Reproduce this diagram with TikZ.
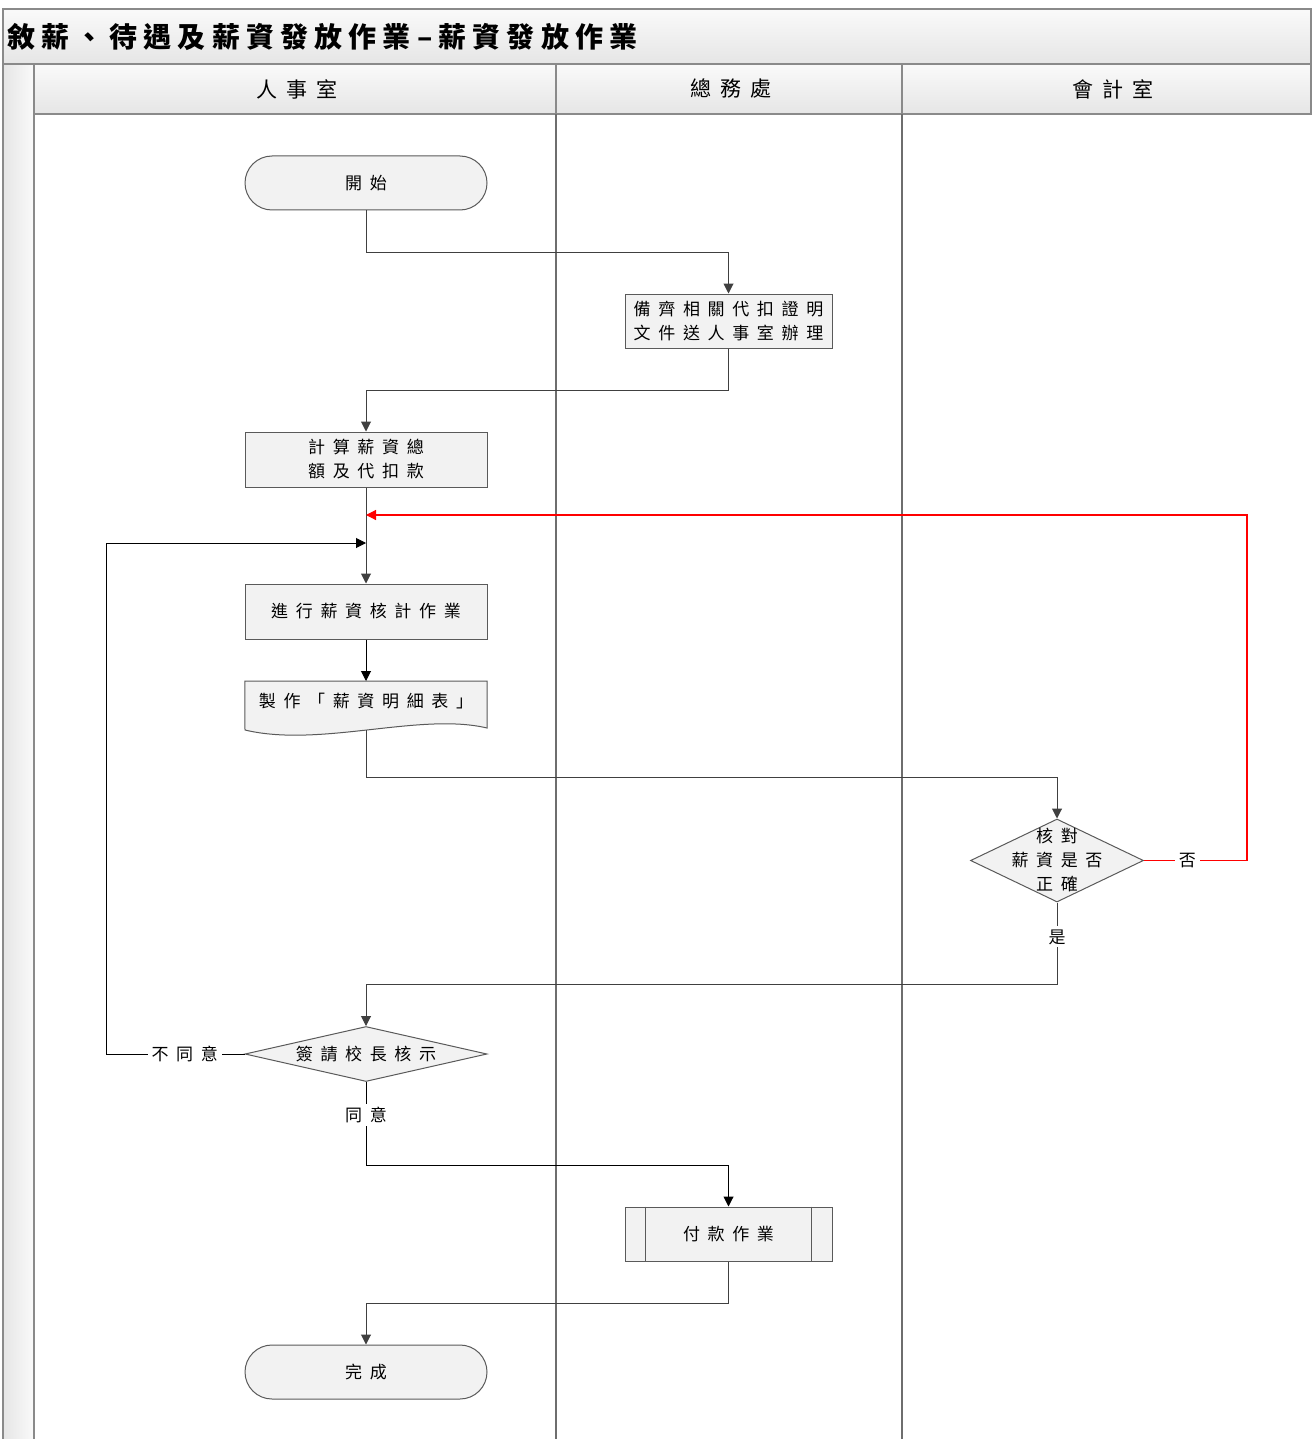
\documentclass[tikz,border=0pt]{standalone}
\usepackage{fontspec}
\setmainfont{Noto Sans CJK TC}
\newfontfamily\cjk[LetterSpace=45]{Noto Sans CJK TC}
\newfontfamily\cjktitle[LetterSpace=22]{Noto Sans CJK TC}
\usetikzlibrary{shapes.geometric,arrows.meta}
\definecolor{frameg}{HTML}{8A8A8A}
\definecolor{laneg}{HTML}{6E6E6E}
\definecolor{boxb}{HTML}{5A5A5A}
\definecolor{boxf}{HTML}{F2F2F2}
\definecolor{conng}{HTML}{404040}
\definecolor{redc}{HTML}{FF0000}
\tikzset{
  txt/.style={font=\cjk\fontsize{17}{24}\selectfont, align=center, inner sep=0},
  term/.style={draw=boxb, fill=boxf, line width=1pt, rounded corners=27pt, minimum width=242pt, minimum height=54pt, inner sep=0, txt},
  procbox/.style={draw=boxb, fill=boxf, line width=1pt, minimum width=242pt, minimum height=55pt, inner sep=0, txt},
  diam/.style={draw=boxb, fill=boxf, line width=1pt, shape=diamond, inner sep=0},
  lbl/.style={fill=white, text=black, txt, inner xsep=4pt, inner ysep=3pt},
  conn/.style={color=conng, line width=1pt, -{Triangle[length=10pt,width=10pt]}},
  blkconn/.style={color=black, line width=1pt, -{Triangle[length=10pt,width=10pt]}},
  redconn/.style={color=redc, line width=1.2pt, -{Triangle[length=10pt,width=10pt]}},
  hdr/.style={draw=frameg, line width=1.2pt, top color=white!60!boxf, bottom color=black!10},
  hdrtxt/.style={inner sep=0, font=\cjk\fontsize{21}{24}\selectfont},
}
\begin{document}
\begin{tikzpicture}[x=1pt,y=-1pt]
\useasboundingbox (0,0) rectangle (1311,1439);
\fill[white] (0,0) rectangle (1311,1439);
% frame
\path[hdr] (3,9) rectangle (1311,64);
\node[anchor=west, inner sep=0, font=\cjktitle\bfseries\fontsize{28}{30}\selectfont] (title) at (7,37) {敘薪、待遇及薪資發放作業–薪資發放作業};
\path[draw=frameg, line width=1.2pt, left color=black!10, right color=white!60!boxf] (3,64) rectangle (34,1445);
\path[hdr] (34,64) rectangle (556,114);
\path[hdr] (556,64) rectangle (902,114);
\path[hdr] (902,64) rectangle (1311,114);
\node[hdrtxt] (h1) at (297,89) {人事室};
\node[hdrtxt] (h2) at (731,89) {總務處};
\node[hdrtxt] (h3) at (1113,89) {會計室};
\draw[laneg, line width=1.5pt] (556,114) -- (556,1445);
\draw[laneg, line width=1.5pt] (902,114) -- (902,1445);
\draw[frameg, line width=1.2pt] (34,114) -- (34,1445);

% nodes
\node[term] (start) at (366,183) {開始};
\node[procbox, minimum width=207pt, minimum height=54pt] (prep) at (728.5,321) {備齊相關代扣證明\\文件送人事室辦理};
\node[procbox] (calc) at (366,459.5) {計算薪資總\\額及代扣款};
\node[procbox] (audit) at (366,611.5) {進行薪資核計作業};
\node[minimum width=242pt, minimum height=48pt, inner sep=0, anchor=north] (doc) at (366,681) {};
\path[draw=boxb, fill=boxf, line width=1pt] (doc.north west) -- (doc.north east) -- (487,728)
  .. controls (420,712) and (320,748) .. (245,730) -- cycle;
\node[txt] (doctxt) at (366,701) {製作「薪資明細表」};
\coordinate (docb) at (366,730);
\node[diam, minimum width=173pt, minimum height=83pt] (chk) at (1057,860.5) {};
\node[txt] (chktxt) at (1057,860) {核對\\薪資是否\\正確};
\node[diam, minimum width=242pt, minimum height=55pt] (sign) at (366,1054) {};
\node[txt] (signtxt) at (366,1054) {簽請校長核示};
\node[procbox, minimum width=207pt, minimum height=54pt] (pay) at (728.5,1234) {付款作業};
\draw[boxb, line width=1pt] ([xshift=21pt]pay.north west) -- ([xshift=21pt]pay.south west);
\draw[boxb, line width=1pt] ([xshift=-21pt]pay.north east) -- ([xshift=-21pt]pay.south east);
\node[term] (finish) at (366,1372) {完成};

% bend coordinates
\coordinate (redTurn) at (1247,515);
\coordinate (redIn) at (366,515);
\coordinate (loopTurn) at (106,543);
\coordinate (loopIn) at (366,543);

% connectors
\draw[conn] (start.south) -- ++(0,42) -| (prep.north);
\draw[conn] (prep.south) -- ++(0,42) -| (calc.north);
\draw[conn] (calc.south) -- (audit.north);
\draw[blkconn] (audit.south) -- (doc.north);
\draw[conn] (docb) -- ++(0,47) -| (chk.north);
\draw[redconn] (chk.east) -| (redTurn) -- (redIn);
\draw[conn] (chk.south) -- ++(0,82) -| (sign.north);
\draw[blkconn] (sign.west) -| (loopTurn) -- (loopIn);
\draw[blkconn] (sign.south) -- ++(0,83) -| (pay.north);
\draw[conn] (pay.south) -- ++(0,42) -| (finish.north);

% connector labels
\path (chk.east) -| node[pos=0.21, lbl] (lno) {否} (redTurn);
\path (chk.south) -- node[pos=0.42, lbl] (lyes) {是} ++(0,82);
\path (sign.west) -| node[pos=0.216, lbl] (ldis) {不同意} (loopTurn);
\path (sign.south) -- node[pos=0.4, lbl] (lagr) {同意} ++(0,83);
\end{tikzpicture}
\end{document}
